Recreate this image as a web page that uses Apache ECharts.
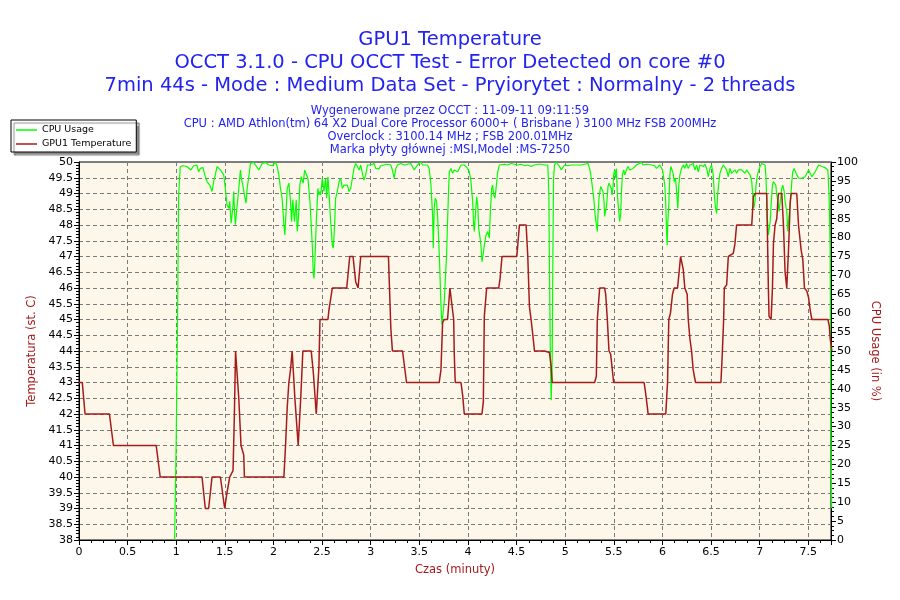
<!DOCTYPE html>
<html>
<head>
<meta charset="utf-8">
<script src="https://cdn.jsdelivr.net/npm/echarts@6/dist/echarts.min.js"></script>
<style>
html,body{margin:0;padding:0;background:#fff;}
#chart{width:900px;height:600px;}
</style>
</head>
<body>
<div id="chart"></div>
<script>
// ---- data (minutes, °C / %) ----
var titleLines = [
  'GPU1 Temperature',
  'OCCT 3.1.0 - CPU OCCT Test - Error Detected on core #0',
  '7min 44s - Mode : Medium Data Set - Pryiorytet : Normalny - 2 threads'
];
var infoLines = [
  'Wygenerowane przez OCCT : 11-09-11 09:11:59',
  'CPU : AMD Athlon(tm) 64 X2 Dual Core Processor 6000+ ( Brisbane ) 3100 MHz FSB 200MHz',
  'Overclock : 3100.14 MHz ; FSB 200.01MHz',
  'Marka płyty głównej :MSI,Model :MS-7250'
];
var seriesNames = ['CPU Usage', 'GPU1 Temperature'];

var tempTime = [0,0.034,0.062,0.313,0.354,0.794,0.835,1.265,1.299,1.333,1.368,1.454,1.498,1.522,1.55,1.584,1.598,1.61,1.625,1.643,1.666,1.694,1.701,
  2.107,2.124,2.141,2.158,2.175,2.192,2.203,2.22,2.254,2.268,2.28,2.302,2.388,2.41,2.44,2.45,2.467,2.478,2.56,2.57,2.605,2.753,2.784,2.818,2.845,2.87,2.897,
  3.182,3.196,3.207,3.223,3.327,3.368,3.704,3.722,3.739,3.756,3.79,3.814,3.832,3.853,3.859,3.869,3.928,3.945,3.962,
  4.144,4.158,4.168,4.192,4.316,4.33,4.35,4.502,4.529,4.598,4.615,4.632,4.649,4.667,4.684,4.787,4.838,4.856,4.866,
  5.302,5.32,5.33,5.354,5.405,5.416,5.433,5.45,5.467,5.481,5.498,5.811,5.825,5.845,5.852,
  6.034,6.052,6.065,6.082,6.103,6.12,6.155,6.168,6.186,6.196,6.213,6.23,6.254,6.265,6.282,6.299,6.316,6.34,6.601,6.615,6.629,6.636,6.66,6.677,6.728,6.745,6.762,
  6.918,6.935,6.952,7.072,7.089,7.096,7.117,7.131,7.141,7.158,7.175,7.192,7.227,7.244,7.261,7.278,7.296,7.313,7.323,7.381,7.399,7.426,7.443,7.46,7.485,7.502,7.519,7.536,7.701,7.715,7.725,7.742];
var tempValue = [43,43,42,42,41,41,40,40,39,39,40,40,39,39.5,40,40.2,42,44,44,42.5,41,40.7,40,
  40,41,42.2,43,43.4,44,44,42.5,41,41,42.5,44,44,43.3,42,42,43.5,45,45,45.3,46,46,47,47,46.2,46,47,
  47,45.7,44.7,44,44,43,43,43.4,44.9,45,45,46,46,45,43.9,43,43,42.6,42,
  42,42.4,45.1,46,46,46.3,47,47,48,48,47,45.4,45,44.5,44,44,43.95,43.5,43,
  43,43.2,45,46,46,45.8,45,44,43.9,43.5,43,43,42.7,42.2,42,
  42,43,45,45.2,45.8,46,46,46.4,47,47,46.6,46,45.8,45,44.4,44,43.4,43,43,43.9,45,46,46.1,47,47.1,47.4,48,
  48,48.9,49,49,46,45.1,45,46,47.4,48,48.2,49,49,48,46.5,46,47.2,48.7,49,49,48,47.2,46.9,46,45.9,45.7,45.3,45,45,44.8,44.4,44];

var cpuTime = [0.983,0.99,1.0,1.014,1.024,1.041,1.075,1.093,1.110,1.127,1.151,1.179,1.213,1.230,1.247,1.275,1.289,1.316,1.344,1.368,1.385,1.402,1.419,1.436,1.454,1.471,1.488,
  1.505,1.522,1.540,1.550,1.564,1.574,1.584,1.591,1.598,1.608,1.625,1.643,1.660,1.670,1.687,1.701,1.718,1.729,1.746,1.763,1.780,1.797,1.814,1.849,1.883,1.918,1.952,1.986,
  2.021,2.038,2.055,2.072,2.089,2.107,2.117,2.131,2.141,2.158,2.175,2.186,2.199,2.216,2.234,2.244,2.254,2.261,2.271,2.285,2.306,2.320,2.340,2.354,2.375,2.388,2.399,2.409,2.416,2.426,2.440,2.457,2.467,2.478,
  2.485,2.502,2.519,2.536,2.546,2.560,2.570,2.588,2.605,2.615,2.629,2.639,2.656,2.674,2.691,2.708,2.725,2.742,2.759,2.777,2.794,2.811,2.828,2.845,2.863,2.880,2.897,2.914,2.931,2.948,2.966,2.983,
  3.000,3.034,3.052,3.086,3.103,3.137,3.172,3.206,3.223,3.241,3.258,3.275,3.309,3.344,3.378,3.412,3.447,3.464,3.481,3.498,3.515,3.533,3.550,3.584,3.601,3.619,3.636,3.643,3.653,3.663,3.677,3.687,3.698,
  3.711,3.722,3.732,3.746,3.756,3.766,3.780,3.790,3.801,3.808,3.825,3.842,3.859,3.876,3.893,3.911,3.928,3.945,3.962,3.979,3.997,
  4.014,4.031,4.048,4.058,4.065,4.076,4.089,4.100,4.110,4.124,4.134,4.144,4.155,4.168,4.186,4.203,4.220,4.230,4.244,4.254,4.264,4.278,4.296,4.306,4.323,4.340,4.375,4.409,4.443,4.478,
  4.512,4.546,4.581,4.615,4.649,4.684,4.718,4.753,4.787,4.821,4.832,4.838,4.849,4.856,4.866,4.873,4.880,4.890,4.907,4.942,4.959,4.976,4.993,
  5.027,5.062,5.096,5.131,5.165,5.199,5.234,5.251,5.268,5.285,5.296,5.309,5.320,5.330,5.337,5.347,5.364,5.378,5.388,5.399,5.405,5.416,5.426,5.440,5.450,5.464,5.474,5.481,5.491,5.498,
  5.509,5.519,5.526,5.536,5.550,5.560,5.570,5.577,5.588,5.601,5.612,5.629,5.646,5.663,5.680,5.698,5.715,5.732,5.749,5.784,5.801,5.818,5.835,5.852,5.887,5.921,5.938,5.955,5.973,5.990,
  6.000,6.014,6.024,6.034,6.041,6.048,6.055,6.065,6.076,6.086,6.100,6.110,6.120,6.134,6.148,6.158,6.168,6.179,6.196,6.213,6.230,6.247,6.265,6.282,6.299,6.316,6.333,6.351,6.368,6.385,6.402,6.419,6.436,6.454,6.471,6.488,
  6.505,6.522,6.533,6.546,6.557,6.567,6.581,6.591,6.608,6.625,6.643,6.660,6.677,6.694,6.711,6.728,6.746,6.763,6.780,6.797,6.814,6.832,6.849,6.866,6.883,6.900,6.918,6.928,6.938,6.952,6.962,6.976,6.986,
  7.003,7.021,7.038,7.055,7.065,7.076,7.089,7.107,7.117,7.131,7.141,7.151,7.165,7.175,7.186,7.199,7.216,7.227,7.237,7.251,7.261,7.278,7.289,7.302,7.313,7.323,7.330,7.340,7.354,7.364,7.381,7.399,
  7.416,7.433,7.450,7.467,7.485,7.502,7.519,7.536,7.553,7.570,7.588,7.605,7.622,7.639,7.656,7.673,7.691,7.701,7.714,7.724,7.730,7.740];
var cpuValue = [0,11,27,60,91,98.8,99,99.4,98.8,99.2,97.9,99.0,99.2,97.4,98.3,98.5,97.0,94.8,93.9,92.2,94.8,96.6,98.8,99.2,97.9,97.9,96.6,
  93.0,88.6,87.7,89.6,83.8,86.0,88.6,92.2,87.7,83.4,83.4,93.0,97.9,95.7,93.5,91.3,89.1,93.0,96.1,99.6,99.9,99.9,99.2,97.9,99.6,99.9,99.2,99.0,
  99.9,98.8,96.6,93.0,90.4,83.4,80.7,87.7,93.0,94.4,89.6,84.2,90.0,84.2,90.0,81.6,84.2,87.7,93.9,96.1,94.4,97.9,97.9,95.7,89.6,83.4,78.0,70.5,69.2,73.6,84.2,93.0,91.3,92.2,
  91.3,95.7,92.2,95.7,90.4,96.1,92.2,84.2,78.0,77.2,83.4,90.4,92.2,94.8,95.7,93.0,93.9,93.5,93.9,92.2,93.0,95.7,98.3,99.6,98.8,97.9,99.2,97.0,95.2,96.6,99.2,99.6,
  99.2,99.6,98.3,98.2,99.0,99.2,99.4,99.2,97.9,95.7,98.3,99.2,99.6,99.2,99.4,99.6,97.9,97.4,99.2,99.6,100,99.2,98.8,99.2,98.3,93.9,86.0,77.2,87.7,90.4,89.6,86.0,79.9,
  71.0,62.2,57.0,60.5,63.1,68.4,75.4,84.2,93.0,97.4,98.3,97.0,97.9,98.3,97.4,98.3,99.2,99.6,99.2,99.6,98.3,
  97.4,94.8,89.6,83.4,81.6,86.0,90.8,88.6,82.5,79.9,77.7,73.6,75.4,78.0,80.7,81.6,79.9,86.9,93.0,93.9,91.3,90.4,94.8,97.4,99.2,99.6,99.4,99.2,99.6,99.4,
  99.2,99.4,99.0,99.2,98.8,99.2,99.4,99.4,99.2,99.2,91,71,45,37,48,75,95.7,99.2,100,98.8,97.9,98.3,99.2,
  99.0,99.2,99.2,99.2,99.2,99.4,99.6,98.3,95.7,92.2,89.6,85.6,83.4,81.6,86.0,90.4,93.5,93.5,92.2,89.6,85.6,85.6,88.6,93.5,94.4,93.9,93.0,91.3,93.0,96.6,
  97.9,95.7,98.3,91.3,86.9,84.2,86.4,91.3,96.6,97.9,96.6,97.9,98.8,97.9,97.4,98.3,98.8,99.2,99.6,99.9,99.2,99.6,99.4,99.2,99.2,99.0,98.3,98.8,99.2,99.6,
  97.9,98.3,93.9,88.6,82.5,78.0,84.2,88.6,96.6,98.8,98.3,97.0,94.8,95.7,91.3,87.7,93.9,96.6,98.3,99.2,98.3,99.6,98.3,99.2,98.8,99.6,97.9,99.2,97.4,99.2,99.6,98.8,99.4,98.3,96.1,98.3,
  99.2,96.6,91.3,87.7,86.4,91.3,94.8,97.0,98.3,99.2,99.6,97.9,96.1,98.3,97.0,97.4,97.9,97.0,97.9,97.4,97.9,97.4,97.0,97.9,97.9,96.6,94.8,91.3,87.7,89.6,93.9,96.6,97.4,
  98.8,99.6,99.6,99.2,95.7,86.0,80.7,84.2,88.6,93.9,94.8,95.2,93.9,91.3,89.6,86.9,86.9,93.0,93.9,92.2,89.6,86.9,81.6,86.0,88.6,92.2,94.8,97.4,98.3,97.9,96.6,95.7,
  96.1,95.7,95.2,96.1,96.6,97.9,97.4,96.1,96.6,97.4,98.3,99.2,99.4,98.8,98.3,98.5,98.3,97.9,90.4,77.9,40,8.4];

// ---- chart ----
var FONT = 'DejaVu Sans';
var blue = '#2323F0';
var darkRed = '#A51B1B';

function pairs(xs, ys) { return xs.map(function (x, i) { return [x, ys[i]]; }); }

var titles = [];
var titleTops = [30, 53, 76];
titleLines.forEach(function (t, i) {
  titles.push({ text: t, left: 'center', top: titleTops[i], padding: 0,
    textStyle: { fontFamily: FONT, fontSize: 19.5, fontWeight: 'normal', color: blue } });
});
var infoTops = [105, 118, 131, 144];
infoLines.forEach(function (t, i) {
  titles.push({ text: t, left: 'center', top: infoTops[i], padding: 0,
    textStyle: { fontFamily: FONT, fontSize: 11.5, fontWeight: 'normal', color: blue } });
});

var chart = echarts.init(document.getElementById('chart'), null, { renderer: 'canvas' });
chart.setOption({
  animation: false,
  backgroundColor: '#ffffff',
  title: titles,
  legend: {
    left: 11, top: 120, orient: 'vertical',
    data: seriesNames,
    icon: 'rect', itemWidth: 21, itemHeight: 1.5, itemGap: 4,
    padding: [5, 5, 3, 5],
    backgroundColor: '#ffffff', borderColor: '#000', borderWidth: 1,
    shadowColor: 'rgba(0,0,0,0.45)', shadowBlur: 1, shadowOffsetX: 3, shadowOffsetY: 3,
    textStyle: { fontFamily: FONT, fontSize: 9.5, color: '#000', padding: [0, 0, 0, 0] }
  },
  grid: {
    left: 79, right: 69, top: 162, bottom: 60,
    show: true, backgroundColor: '#FDF7E9', borderColor: '#000', borderWidth: 1
  },
  xAxis: {
    type: 'value', min: 0, max: 7.733, interval: 0.5,
    name: 'Czas (minuty)', nameLocation: 'middle', nameGap: 24,
    nameTextStyle: { fontFamily: FONT, fontSize: 11.5, color: darkRed },
    axisLine: { show: true, lineStyle: { color: '#000', width: 1 } },
    axisTick: { show: true, length: 5, lineStyle: { color: '#000' } },
    minorTick: { show: true, splitNumber: 4, length: 3, lineStyle: { color: '#000' } },
    axisLabel: { fontFamily: FONT, fontSize: 11, color: '#000', margin: 7, showMaxLabel: false },
    splitLine: { show: true, lineStyle: { color: '#7a7a7a', type: [4, 3], width: 1 } }
  },
  yAxis: [{
    type: 'value', min: 38, max: 50, interval: 0.5, position: 'left',
    name: 'Temperatura (st. C)', nameLocation: 'middle', nameGap: 36, nameRotate: 90,
    nameTextStyle: { fontFamily: FONT, fontSize: 11.5, color: darkRed },
    axisLine: { show: true, lineStyle: { color: '#000', width: 1 } },
    axisTick: { show: true, length: 5, lineStyle: { color: '#000' } },
    minorTick: { show: true, splitNumber: 5, length: 3, lineStyle: { color: '#000' } },
    axisLabel: { fontFamily: FONT, fontSize: 11, color: '#000', margin: 6 },
    splitLine: { show: true, lineStyle: { color: '#7a7a7a', type: [4, 3], width: 1 } }
  }, {
    type: 'value', min: 0, max: 100, interval: 5, position: 'right',
    name: 'CPU Usage (in %)', nameLocation: 'middle', nameGap: 28, nameRotate: -90,
    nameTextStyle: { fontFamily: FONT, fontSize: 11.5, color: darkRed },
    axisLine: { show: true, lineStyle: { color: '#000', width: 1 } },
    axisTick: { show: true, length: 5, lineStyle: { color: '#000' } },
    minorTick: { show: true, splitNumber: 4, length: 3, lineStyle: { color: '#000' } },
    axisLabel: { fontFamily: FONT, fontSize: 11, color: '#000', margin: 6 },
    splitLine: { show: false }
  }],
  series: [{
    name: seriesNames[0], type: 'line', yAxisIndex: 1,
    data: pairs(cpuTime, cpuValue),
    showSymbol: false, symbol: 'none',
    lineStyle: { color: '#00FF00', width: 1.2 }, itemStyle: { color: '#00FF00' }
  }, {
    name: seriesNames[1], type: 'line', yAxisIndex: 0,
    data: pairs(tempTime, tempValue),
    showSymbol: false, symbol: 'none',
    lineStyle: { color: darkRed, width: 1.5 }, itemStyle: { color: darkRed }
  }]
});
</script>
</body>
</html>
